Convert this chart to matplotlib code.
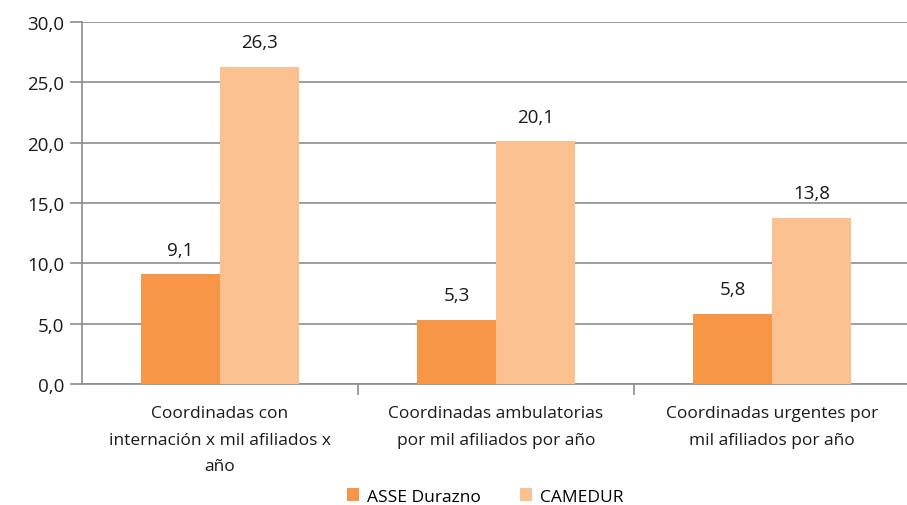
import numpy as np
import matplotlib.pyplot as plt

categorias = ["Coordinadas con\ninternación x mil afiliados x\naño",
              "Coordinadas ambulatorias\npor mil afiliados por año",
              "Coordinadas urgentes por\nmil afiliados por año"]
asse = [9.1, 5.3, 5.8]
camedur = [26.3, 20.1, 13.8]
series = ["ASSE Durazno", "CAMEDUR"]
yticks = [0, 5, 10, 15, 20, 25, 30]

plt.rcParams['font.family'] = ['Open Sans', 'DejaVu Sans']

fig = plt.figure(figsize=(9.07, 5.06), dpi=100)
ax = fig.add_axes([0.0904, 0.239, 0.913, 0.7155])

x = np.arange(len(categorias))
w = 0.286
b1 = ax.bar(x - w / 2, asse, w, color='#F79646', label=series[0], zorder=3)
b2 = ax.bar(x + w / 2, camedur, w, color='#FAC090', label=series[1], zorder=3)

for barras in (b1, b2):
    for r in barras:
        v = r.get_height()
        ax.text(r.get_x() + r.get_width() / 2, v + 1.3, f"{v:.1f}".replace('.', ','),
                ha='center', va='bottom', fontsize=13.5, color='#1a1a1a')

ax.set_xlim(-0.5, len(categorias) - 0.5)
ax.set_ylim(0, 30)
ax.set_yticks(yticks)
ax.set_yticklabels([f"{t:.1f}".replace('.', ',') for t in yticks], fontsize=13.5, color='#1a1a1a')
ax.yaxis.grid(True, color='#8c8c8c', linewidth=1.2, zorder=0)
ax.tick_params(axis='y', length=9, color='#8c8c8c', width=1.2, pad=4)

ax.set_xticks(x)
ax.set_xticklabels(categorias, fontsize=12.5, color='#1a1a1a', linespacing=1.9)
ax.tick_params(axis='x', length=0, pad=15)
ax.set_xticks([0.5, 1.5], minor=True)
ax.tick_params(axis='x', which='minor', length=8, color='#8c8c8c', width=1.2)

for s in ['top', 'right']:
    ax.spines[s].set_visible(False)
for s in ['left', 'bottom']:
    ax.spines[s].set_color('#8c8c8c')
    ax.spines[s].set_linewidth(1.2)

fig.legend(handles=[b1, b2], labels=series, loc='lower center', ncol=2,
           bbox_to_anchor=(0.535, -0.03), frameon=False, fontsize=12.5,
           handlelength=0.7, handleheight=0.7, columnspacing=2.2, handletextpad=0.5)

fig.savefig('out.png', dpi=100)
